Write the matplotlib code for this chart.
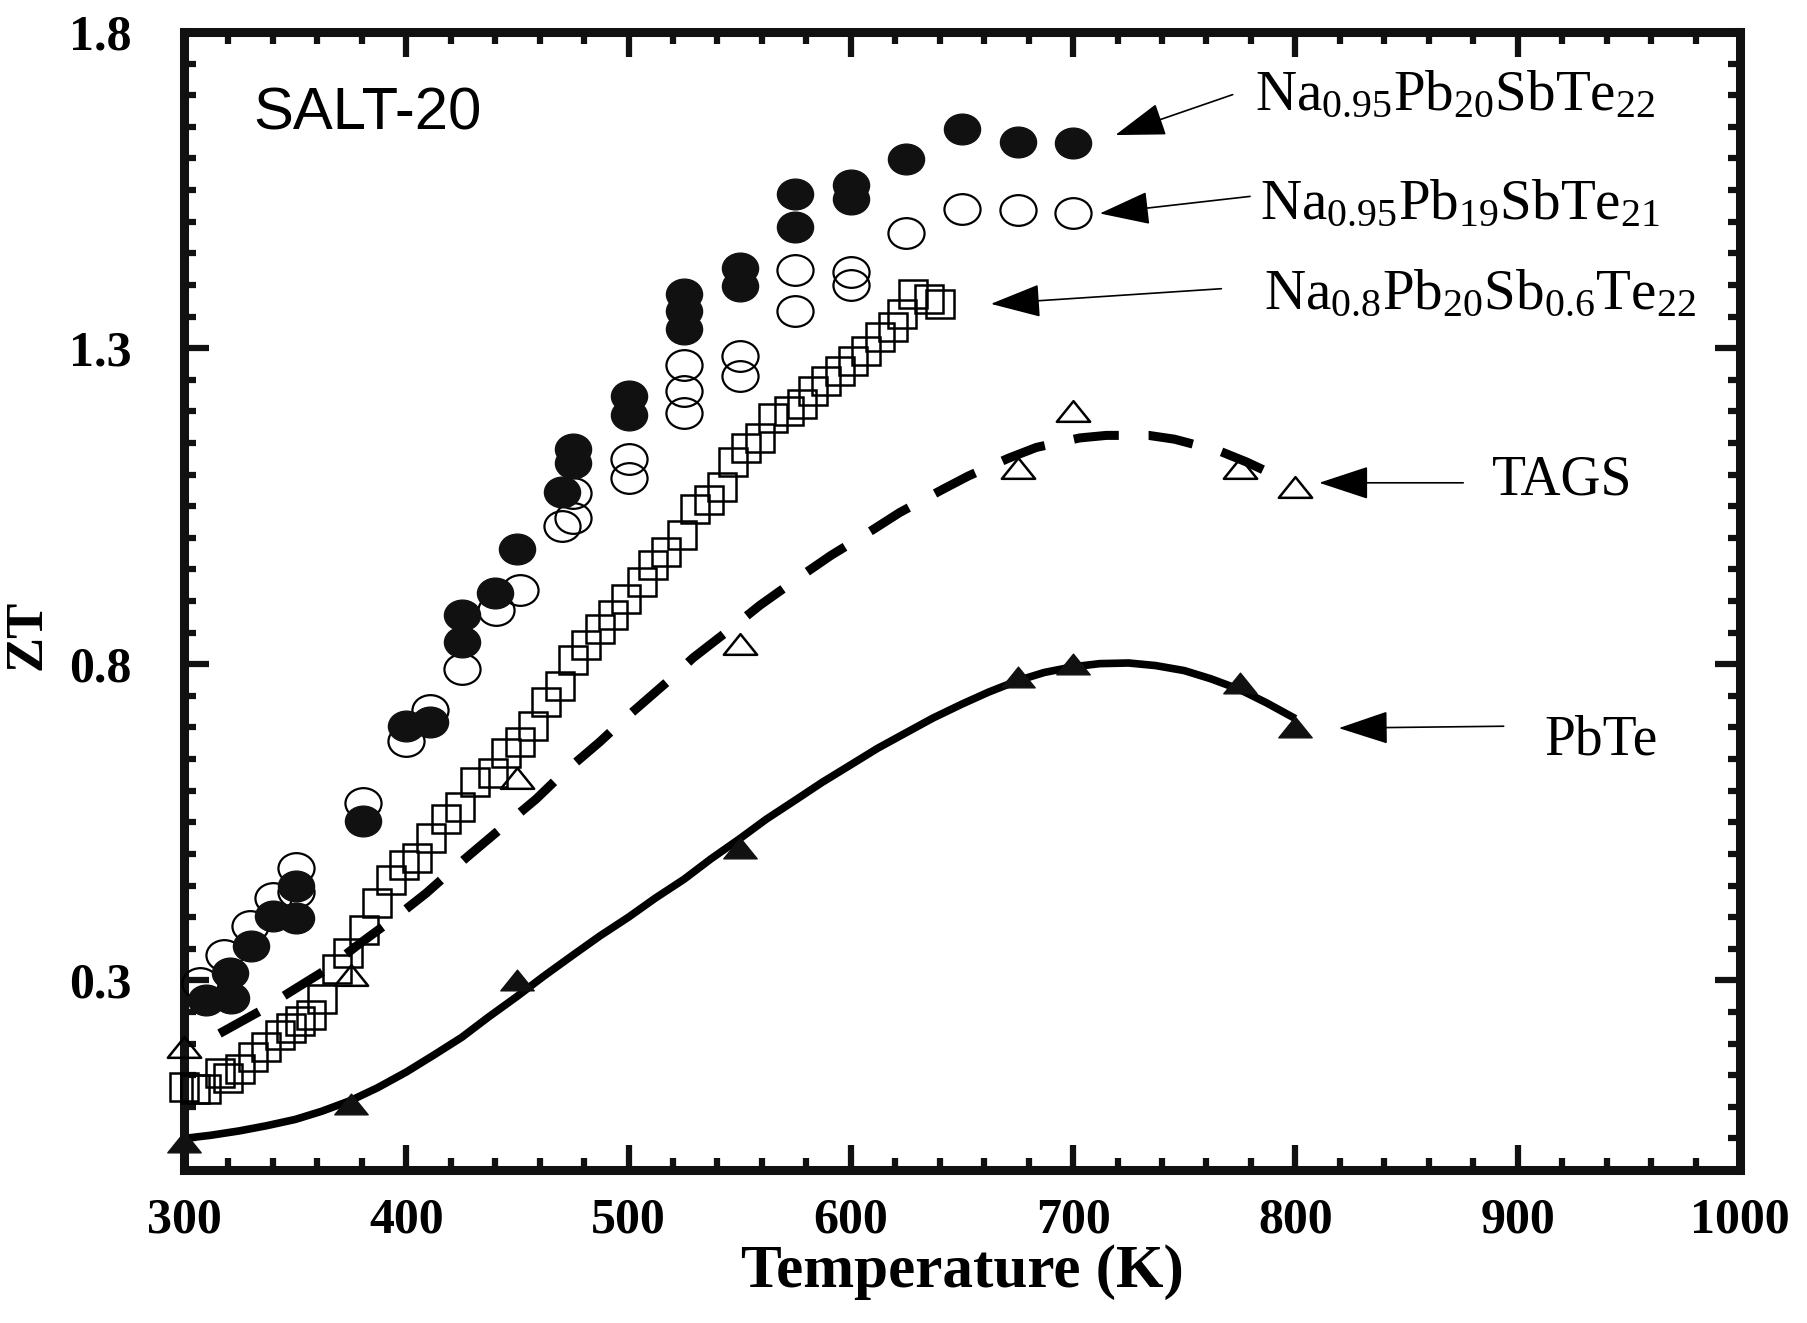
import matplotlib
matplotlib.use('Agg')
import matplotlib.pyplot as plt
from matplotlib.path import Path
from matplotlib.transforms import Affine2D
from matplotlib.ticker import MultipleLocator, FixedLocator

plt.rcParams['font.family'] = 'Liberation Serif'
plt.rcParams['mathtext.fontset'] = 'custom'
plt.rcParams['mathtext.rm'] = 'Liberation Serif'
plt.rcParams['mathtext.it'] = 'Liberation Serif:italic'

# Na0.95Pb20SbTe22 (filled circles)
na20_x = [310, 321, 320.5, 330, 340, 350.5, 350.5, 380.5, 400, 410.5, 425, 425, 440, 450,
          470, 475, 475, 500, 500, 525, 525, 525, 550, 550, 575, 575, 600, 600, 625, 650, 675, 700]
na20_y = [0.269, 0.272, 0.311, 0.355, 0.402, 0.399, 0.449, 0.552, 0.703, 0.708, 0.835, 0.878, 0.912, 0.983,
          1.073, 1.119, 1.140, 1.195, 1.224, 1.330, 1.359, 1.386, 1.399, 1.426, 1.491, 1.544, 1.536, 1.558,
          1.599, 1.646, 1.626, 1.625]

# Na0.95Pb19SbTe21 (open circles)
na19_x = [307, 318, 329.5, 340, 350.5, 350.5, 380.5, 400, 410.5, 425, 440.5, 451, 470, 475, 475,
          500, 500, 525, 525, 525, 550, 550, 575, 575, 600, 600, 625, 650, 675, 700]
na19_y = [0.296, 0.340, 0.386, 0.430, 0.478, 0.440, 0.581, 0.679, 0.727, 0.793, 0.886, 0.917, 1.018, 1.031, 1.071,
          1.095, 1.124, 1.198, 1.232, 1.274, 1.256, 1.288, 1.358, 1.423, 1.400, 1.420, 1.482, 1.520, 1.518, 1.514]

# Na0.8Pb20Sb0.6Te22 (open squares)
sq_x = [300, 305, 310, 316, 320, 325, 331, 337, 343, 348, 352, 357, 362, 369, 374, 381, 387, 393, 399,
        405, 411, 418, 424, 431, 439, 445, 451, 457, 463, 469, 475, 481, 487, 493, 499, 506, 511, 517,
        524, 530, 536, 542, 547, 553, 559, 565, 572, 578, 583, 589, 595, 601, 607, 613, 619, 623, 628,
        635, 640]
sq_y = [0.132, 0.128, 0.128, 0.153, 0.145, 0.160, 0.179, 0.195, 0.214, 0.225, 0.235, 0.245, 0.270, 0.318,
        0.343, 0.379, 0.422, 0.458, 0.482, 0.494, 0.525, 0.555, 0.575, 0.613, 0.628, 0.660, 0.677, 0.703,
        0.740, 0.766, 0.806, 0.830, 0.856, 0.878, 0.904, 0.930, 0.957, 0.978, 1.005, 1.046, 1.060, 1.080,
        1.120, 1.142, 1.158, 1.190, 1.200, 1.211, 1.232, 1.248, 1.264, 1.280, 1.296, 1.317, 1.333, 1.354,
        1.386, 1.378, 1.370]

# TAGS (open triangles + dashed curve)
tags_x = [300, 375, 450, 550, 675, 700, 775, 800]
tags_y = [0.195, 0.309, 0.620, 0.832, 1.110, 1.200, 1.110, 1.080]
tags_fit_x = [316, 334, 347, 364, 377.5, 396, 409, 426, 440.5, 458.5, 470, 487, 499, 517, 529, 546.6,
              559, 579, 591, 610, 622, 641, 653, 671, 683.5, 703, 715, 734, 745.6, 766, 778, 795]
tags_fit_y = [0.216, 0.251, 0.280, 0.317, 0.354, 0.402, 0.438, 0.491, 0.534, 0.587, 0.626, 0.677, 0.716,
              0.771, 0.810, 0.858, 0.893, 0.943, 0.972, 1.013, 1.040, 1.076, 1.098, 1.126, 1.143, 1.158,
              1.162, 1.162, 1.156, 1.137, 1.120, 1.092]

# PbTe (filled triangles + solid curve)
pbte_x = [300, 375, 450, 550, 675, 700, 775, 800]
pbte_y = [0.044, 0.105, 0.300, 0.510, 0.780, 0.800, 0.770, 0.700]
pbte_fit_x = [300, 312, 325, 337, 350, 362, 375, 387, 400, 412, 425, 437, 450, 462, 475, 487, 500, 512,
              525, 537, 550, 562, 575, 587, 600, 612, 625, 637, 650, 662, 675, 687, 700, 712, 725, 737,
              750, 762, 775, 787, 800]
pbte_fit_y = [0.050, 0.055, 0.062, 0.070, 0.080, 0.093, 0.110, 0.130, 0.155, 0.181, 0.210, 0.242, 0.275,
              0.307, 0.340, 0.370, 0.400, 0.430, 0.460, 0.492, 0.524, 0.555, 0.585, 0.613, 0.641, 0.667,
              0.692, 0.715, 0.737, 0.756, 0.774, 0.787, 0.796, 0.801, 0.802, 0.798, 0.790, 0.777, 0.760,
              0.739, 0.714]

# marker shapes: slightly flattened circles and wide triangles
ellipse = Path.unit_circle().transformed(Affine2D().scale(1, 0.85))
tri = Path([(0, 0.62), (-1, -0.62), (1, -0.62), (0, 0.62)], closed=True)

fig = plt.figure(figsize=(18.07, 13.23), dpi=100)
ax = fig.add_axes([0.1018, 0.1156, 0.8611, 0.8602])

ax.plot(pbte_fit_x, pbte_fit_y, color='black', lw=5.5, solid_capstyle='butt', solid_joinstyle='round', zorder=2)
ax.plot(tags_fit_x, tags_fit_y, color='black', lw=6.5, dashes=(5, 3.3), dash_capstyle='butt', zorder=2)

ax.plot(sq_x, sq_y, ls='none', marker='s', ms=20, mfc='none', mec='black', mew=1.8, clip_on=False, zorder=3)
ax.plot(na19_x, na19_y, ls='none', marker=ellipse, ms=26, mfc='none', mec='black', mew=1.6, clip_on=False, zorder=3)
ax.plot(na20_x, na20_y, ls='none', marker=ellipse, ms=26, mfc='#111111', mec='#111111', mew=1, clip_on=False, zorder=4)
ax.plot(tags_x, tags_y, ls='none', marker=tri, ms=24, mfc='none', mec='black', mew=1.8, clip_on=False, zorder=4)
ax.plot(pbte_x, pbte_y, ls='none', marker=tri, ms=24, mfc='#111111', mec='#111111', mew=1, clip_on=False, zorder=4)

ax.set_xlim(300, 1000)
ax.set_ylim(0, 1.8)
ax.xaxis.set_major_locator(MultipleLocator(100))
ax.xaxis.set_minor_locator(MultipleLocator(20))
ax.yaxis.set_major_locator(FixedLocator([0.3, 0.8, 1.3, 1.8]))
ax.yaxis.set_minor_locator(MultipleLocator(0.05))
ax.set_yticklabels(['0.3', '0.8', '1.3', '1.8'])

for s in ax.spines.values():
    s.set_linewidth(6.5)
    s.set_color('#111111')
ax.tick_params(which='both', direction='in', top=True, right=True, width=4.5, color='#111111')
ax.tick_params(which='major', length=18)
ax.tick_params(which='minor', length=8.5)
ax.tick_params(axis='x', pad=20, labelsize=36)
ax.tick_params(axis='y', pad=38, labelsize=36)
for lbl in ax.get_xticklabels() + ax.get_yticklabels():
    lbl.set_fontweight('bold')

ax.set_xlabel('Temperature (K)', fontsize=44, fontweight='bold', labelpad=0)
ax.set_ylabel('ZT', fontsize=38, fontweight='bold')
ax.yaxis.set_label_coords(-0.085, 0.47)

ax.text(331, 1.646, 'SALT-20', family='Liberation Sans', fontsize=43, va='baseline')

arrow = dict(arrowstyle='-|>,head_length=1.0,head_width=0.33', mutation_scale=32, lw=1.2, color='black',
             shrinkA=0, shrinkB=0)
ax.annotate('', xy=(719, 1.637), xytext=(771.8, 1.701), arrowprops=arrow)
ax.annotate('', xy=(712, 1.513), xytext=(779.6, 1.540), arrowprops=arrow)
ax.annotate('', xy=(663, 1.370), xytext=(766.7, 1.394), arrowprops=arrow)
ax.annotate('', xy=(810.7, 1.087), xytext=(875.5, 1.087), arrowprops=arrow)
ax.annotate('', xy=(819.5, 0.699), xytext=(893.7, 0.702), arrowprops=arrow)

ax.text(782, 1.677, r'Na$_{0.95}$Pb$_{20}$SbTe$_{22}$', fontsize=41, va='baseline')
ax.text(784, 1.504, r'Na$_{0.95}$Pb$_{19}$SbTe$_{21}$', fontsize=41, va='baseline')
ax.text(786, 1.361, r'Na$_{0.8}$Pb$_{20}$Sb$_{0.6}$Te$_{22}$', fontsize=41, va='baseline')
ax.text(888.5, 1.09, 'TAGS', fontsize=40, va='center')
ax.text(912, 0.68, 'PbTe', fontsize=40, va='center')

fig.savefig('out.png', dpi=100)
